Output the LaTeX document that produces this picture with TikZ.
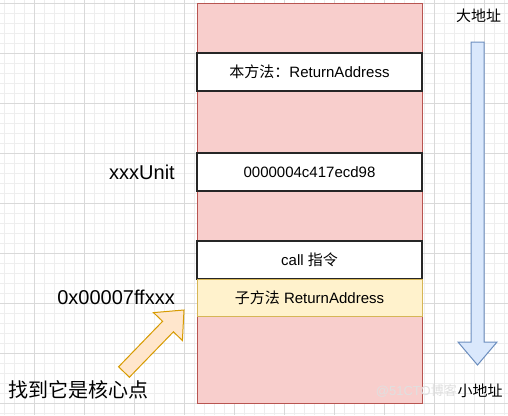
\documentclass[tikz,border=0pt]{standalone}
\usepackage{fontspec}
\setmainfont{Liberation Sans}
\newfontfamily\cjk{Noto Sans CJK SC}
\definecolor{gridminor}{HTML}{EEEEEE}
\definecolor{gridmajor}{HTML}{D9D9D9}
\definecolor{redfill}{HTML}{F8CECC}
\definecolor{redline}{HTML}{B85450}
\definecolor{yelfill}{HTML}{FFF2CC}
\definecolor{yelline}{HTML}{D6B656}
\definecolor{bluefill}{HTML}{DAE8FC}
\definecolor{blueline}{HTML}{6C8EBF}
\definecolor{orgfill}{HTML}{FFE6CC}
\definecolor{orgline}{HTML}{D79B00}
\tikzset{
  minorgrid/.style={draw=gridminor, line width=0.8pt},
  majorgrid/.style={draw=gridmajor, line width=0.9pt},
  stackbox/.style={rectangle, draw=redline, fill=redfill, line width=1pt, inner sep=0pt, minimum width=225pt, minimum height=400pt},
  cellbox/.style={rectangle, draw=black!85, fill=white, line width=1.3pt, inner sep=0pt, minimum width=225pt, minimum height=38pt, font=\fontsize{15}{18}\selectfont},
  hotbox/.style={cellbox, draw=yelline, fill=yelfill, line width=1pt, minimum height=37pt},
  biglabel/.style={inner sep=0pt, font=\fontsize{20}{24}\selectfont},
  addrlabel/.style={inner sep=0pt, font=\cjk\fontsize{15}{18}\selectfont},
  bluearrow/.style={draw=blueline, fill=bluefill, line width=1pt, line join=miter},
  orgarrow/.style={draw=orgline, fill=orgfill, line width=1pt, line join=miter},
}
\begin{document}
\begin{tikzpicture}[x=1pt, y=-1pt]
\useasboundingbox (0,0) rectangle (508,415);
\fill[white] (0,0) rectangle (508,415);
% grid
\foreach \x in {4,14,...,504} \draw[minorgrid] (\x,0) -- (\x,415);
\foreach \y in {3,13,...,413} \draw[minorgrid] (0,\y) -- (508,\y);
\foreach \x in {34,84,...,484} \draw[majorgrid] (\x,0) -- (\x,415);
\foreach \y in {3,53,...,403} \draw[majorgrid] (0,\y) -- (508,\y);
% stack
\node[stackbox] (stack) at (309.5,203) {};
\node[cellbox] (ret) at (309.5,72) {{\cjk 本方法：}ReturnAddress};
\node[cellbox] (unit) at (309.5,172) {0000004c417ecd98};
\node[cellbox] (call) at (309.5,260) {call {\cjk 指令}};
\node[hotbox] (sub) at (309.5,297.5) {{\cjk 子方法} ReturnAddress};
% left labels
\node[biglabel, anchor=east] (unitlbl) at (175,172) {xxxUnit};
\node[biglabel, anchor=east] (addrlbl) at (175,297) {0x00007ffxxx};
\node[biglabel, font=\cjk\fontsize{20}{24}\selectfont] (core) at (78.5,390) {找到它是核心点};
% orange arrow
\draw[orgarrow] (129.4,377.2) -- (173.4,331.8) -- (182.4,340.5) -- (184.0,310.0)
  -- (153.5,312.6) -- (162.6,321.3) -- (118.6,366.8) -- cycle;
% blue arrow
\draw[bluearrow] (471,42) -- (484,42) -- (484,342) -- (497,342) -- (477.5,365)
  -- (458,342) -- (471,342) -- cycle;
\node[addrlabel] (big) at (478.5,16) {大地址};
\node[inner sep=0pt, anchor=east, text=black!12, font=\fontsize{13}{15}\selectfont] (wm) at (457,391) {@51CTO{\cjk 博客}};
\node[addrlabel] (small) at (480,391) {小地址};
\end{tikzpicture}
\end{document}
